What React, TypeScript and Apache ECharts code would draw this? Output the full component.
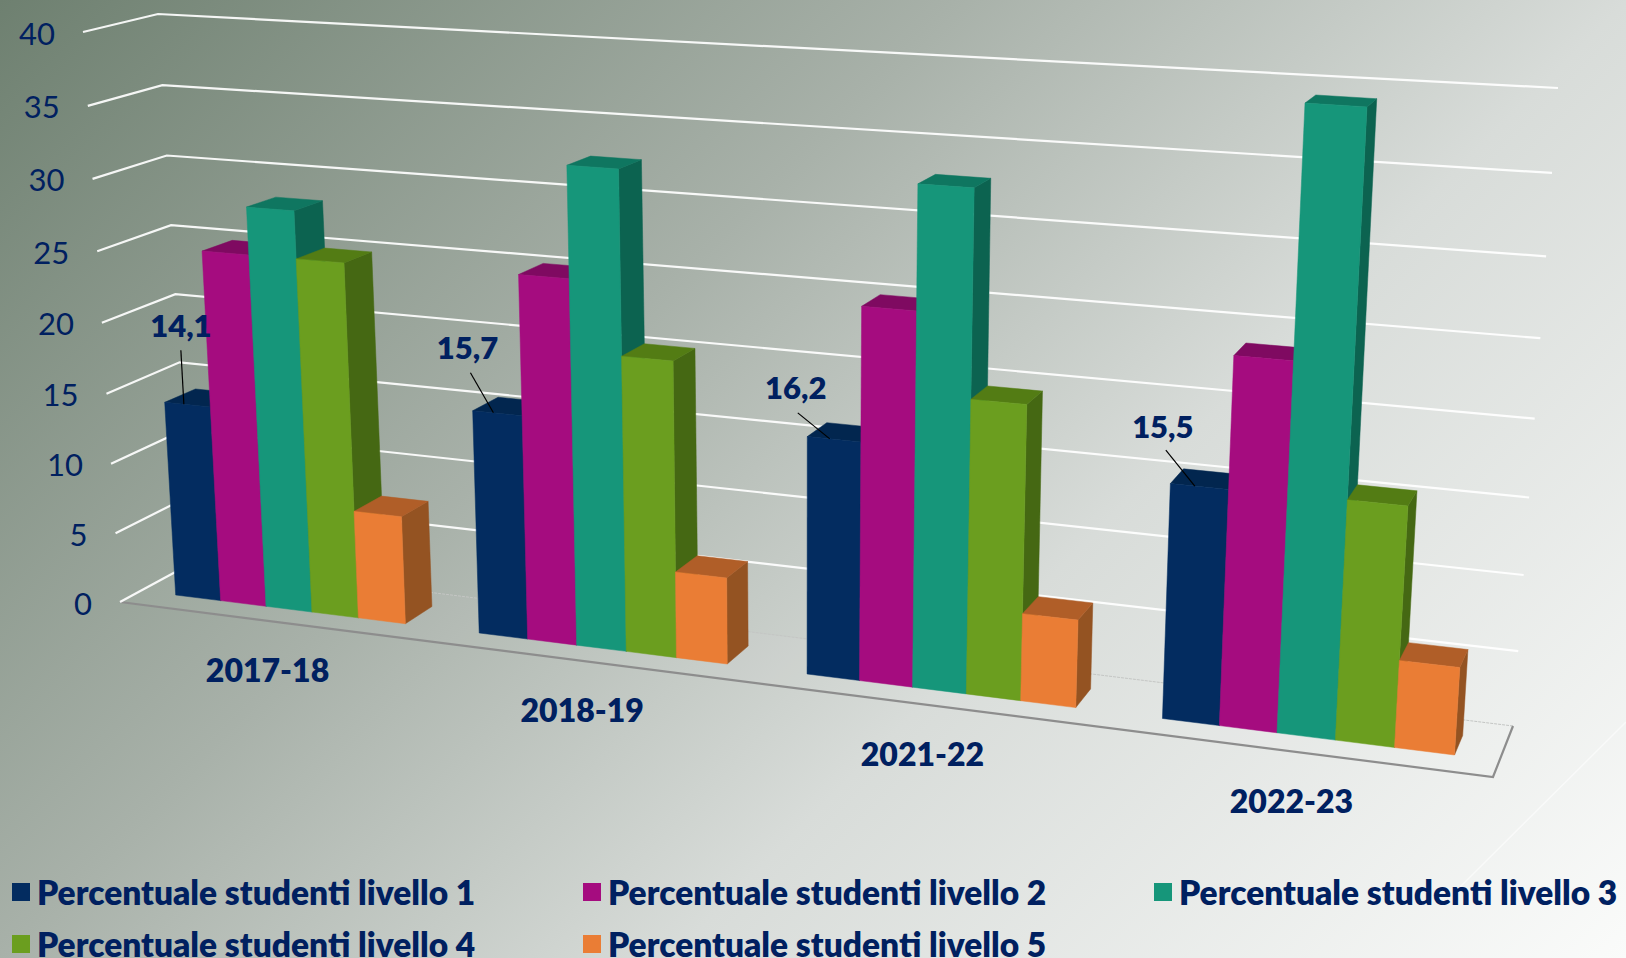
import React, { useEffect, useRef } from "react";
import * as echarts from "echarts";

const categories = ["2017-18", "2018-19", "2021-22", "2022-23"];
const seriesNames = [
  "Percentuale studenti livello 1",
  "Percentuale studenti livello 2",
  "Percentuale studenti livello 3",
  "Percentuale studenti livello 4",
  "Percentuale studenti livello 5",
];
const livello1 = [14.1, 15.7, 16.2, 15.5];
const livello2 = [25.1, 25.3, 25.1, 24.0];
const livello3 = [28.4, 32.8, 33.2, 39.7];
const livello4 = [25.1, 20.4, 19.7, 15.6];
const livello5 = [7.7, 6.0, 5.9, 5.7];
const allLevels = [livello1, livello2, livello3, livello4, livello5];
const valueTicks = [0, 5, 10, 15, 20, 25, 30, 35, 40];

// colours: front, top, side
const palette = [
  ["#032C60", "#02264F", "#02264F"],
  ["#A50C7F", "#7F0A61", "#6E0954"],
  ["#16967A", "#0F7660", "#0C6350"],
  ["#6B9E1F", "#537C14", "#456813"],
  ["#EA7D35", "#B05E28", "#945322"],
];
const NAVY = "#002060";
const FONT = "Lato";

// hidden grid: the axes give the pixel position, which is then warped into the perspective view
const GRID = { left: 0, top: 0, width: 1000, height: 400 };
const AXIS_MAX = 40;

const GROUP_PITCH = 0.2657;
const BAR_W = 0.04058;
const persp = 0.86;
const VP_V = [798, 11503];
const VP_D = [1922, -360];
const DEPTH = 0.0175;

function uToT(u: number) {
  return (persp * u) / (1 - (1 - persp) * u);
}
function front(u: number, v: number) {
  const t = uToT(u);
  const bx = 175.7 + 1278.8 * t;
  const by = 595 + 160 * t;
  const s = 13.45 + 1.8 * t;
  const dx = bx - VP_V[0];
  const dy = by - VP_V[1];
  const D = Math.hypot(dx, dy);
  const sv = s * v;
  const h = sv / (1 - sv / D);
  return [bx + (dx / D) * h, by + (dy / D) * h];
}
function back(p: number[]) {
  return [p[0] + (VP_D[0] - p[0]) * DEPTH, p[1] + (VP_D[1] - p[1]) * DEPTH];
}

// wall edges at value 0 and value 40, with the edge's perspective factor
const WALL = {
  frontLeft: { p: [[120, 602], [83, 32]], k: 0.96 },
  backLeft: { p: [[192, 563], [158, 14]], k: 0.96 },
  backRight: { p: [[1513, 726], [1558, 88]], k: 0.93 },
};
const FLOOR_FRONT_RIGHT = [1493, 777];
function wall(edge: { p: number[][]; k: number }, v: number) {
  const t = v / AXIS_MAX;
  const f = (edge.k * t) / (1 - (1 - edge.k) * t);
  return [edge.p[0][0] + (edge.p[1][0] - edge.p[0][0]) * f, edge.p[0][1] + (edge.p[1][1] - edge.p[0][1]) * f];
}
function readValue(api: any) {
  const px = api.coord([api.value(0), api.value(1)]);
  return ((GRID.top + GRID.height - px[1]) / GRID.height) * AXIS_MAX;
}

const labelLayout = [
  { lx: -3, ly: -79, sx: -3, sy: -54 },
  { lx: -26, ly: -66, sx: -23, sy: -40 },
  { lx: -34, ly: -52, sx: -32, sy: -26 },
  { lx: -32, ly: -60, sx: -29, sy: -36 },
];

function barSeries(level: number) {
  const colors = palette[level];
  return {
    type: "custom",
    name: seriesNames[level],
    coordinateSystem: "cartesian2d",
    clip: false,
    silent: true,
    itemStyle: { color: colors[0] },
    data: allLevels[level].map((v, g) => [g, v]),
    renderItem: (_p: any, api: any) => {
      const g = api.value(0);
      const v = readValue(api);
      const u0 = g * GROUP_PITCH + level * BAR_W;
      const u1 = u0 + BAR_W;
      const a = front(u0, 0);
      const b = front(u1, 0);
      const c = front(u1, v);
      const d = front(u0, v);
      const poly = (pts: number[][], col: string) => ({
        type: "polygon",
        shape: { points: pts },
        style: { fill: col, stroke: col, lineWidth: 0.5 },
      });
      return {
        type: "group",
        children: [
          poly([b, back(b), back(c), c], colors[2]),
          poly([d, c, back(c), back(d)], colors[1]),
          poly([a, b, c, d], colors[0]),
        ],
      };
    },
  };
}

const gridLineSeries = {
  type: "custom",
  coordinateSystem: "cartesian2d",
  clip: false,
  silent: true,
  data: valueTicks.map((t) => [0, t]),
  renderItem: (_p: any, api: any) => {
    const v = readValue(api);
    const fl = wall(WALL.frontLeft, v);
    const bl = wall(WALL.backLeft, v);
    const br = wall(WALL.backRight, v);
    const children: any[] = [
      {
        type: "polyline",
        shape: { points: v === 0 ? [fl, bl] : [fl, bl, br] },
        style: { stroke: "#ffffff", lineWidth: 2.2, fill: "none", opacity: 0.92 },
      },
    ];
    if (v === 0) {
      children.unshift(
        {
          type: "polygon",
          shape: { points: [fl, bl, br, FLOOR_FRONT_RIGHT] },
          style: { fill: "rgba(255,255,255,0.04)" },
        },
        {
          type: "line",
          shape: { x1: bl[0], y1: bl[1], x2: br[0], y2: br[1] },
          style: { stroke: "#c4c6c4", lineWidth: 1, lineDash: [3, 1] },
        },
        {
          type: "polyline",
          shape: { points: [fl, FLOOR_FRONT_RIGHT, br] },
          style: { stroke: "#8d8d8d", lineWidth: 2.2, fill: "none" },
        }
      );
    }
    return { type: "group", children };
  },
};

const tickLabelSeries = {
  type: "custom",
  coordinateSystem: "cartesian2d",
  clip: false,
  silent: true,
  data: valueTicks.map((t) => [0, t]),
  renderItem: (_p: any, api: any) => {
    const v = readValue(api);
    const p = wall(WALL.frontLeft, v);
    return {
      type: "text",
      x: p[0] - 28,
      y: p[1] + 0.5,
      style: {
        text: String(Math.round(v)),
        fill: NAVY,
        font: `400 31px ${FONT}`,
        textAlign: "right",
        textVerticalAlign: "middle",
      },
    };
  },
};

const dataLabelSeries = {
  type: "custom",
  coordinateSystem: "cartesian2d",
  clip: false,
  silent: true,
  data: livello1.map((v, g) => [g, v]),
  renderItem: (_p: any, api: any) => {
    const g = api.value(0);
    const v = readValue(api);
    const u0 = g * GROUP_PITCH;
    const tl = front(u0, v);
    const tr = front(u0 + BAR_W, v);
    const ax = tl[0] + (tr[0] - tl[0]) * 0.42;
    const ay = tl[1] + (tr[1] - tl[1]) * 0.42;
    const l = labelLayout[g];
    return {
      type: "group",
      children: [
        {
          type: "line",
          shape: { x1: ax + l.sx, y1: ay + l.sy, x2: ax, y2: ay },
          style: { stroke: "#000000", lineWidth: 1.2 },
        },
        {
          type: "text",
          x: ax + l.lx,
          y: ay + l.ly,
          style: {
            text: api.value(1).toFixed(1).replace(".", ","),
            fill: NAVY,
            font: `800 31px ${FONT}`,
            textAlign: "center",
            textVerticalAlign: "middle",
          },
        },
      ],
    };
  },
};

const categoryLabelSeries = {
  type: "custom",
  coordinateSystem: "cartesian2d",
  clip: false,
  silent: true,
  data: categories.map((_c, g) => [g, 0]),
  renderItem: (_p: any, api: any) => {
    const g = api.value(0);
    const u0 = g * GROUP_PITCH;
    const a = front(u0, 0);
    const b = front(u0 + 5 * BAR_W, 0);
    return {
      type: "text",
      x: (a[0] + b[0]) / 2 - 23 + 2 * g,
      y: (a[1] + b[1]) / 2 + 60.5 + g,
      style: {
        text: categories[g],
        fill: NAVY,
        font: `800 32px ${FONT}`,
        textAlign: "center",
        textVerticalAlign: "middle",
      },
    };
  },
};

const legendSlots = [
  { left: 12, top: 875 },
  { left: 583, top: 875 },
  { left: 1154, top: 875 },
  { left: 12, top: 927 },
  { left: 583, top: 927 },
];

export default function App() {
  const ref = useRef<HTMLDivElement>(null);
  useEffect(() => {
    if (!ref.current) return;
    const chart = echarts.init(ref.current, undefined, { renderer: "svg" });
    chart.setOption({
      animation: false,
      backgroundColor: {
        type: "linear",
        x: 0,
        y: 0,
        x2: 1292,
        y2: 1292,
        global: true,
        colorStops: [
          { offset: 0, color: "#6E8070" },
          { offset: 0.37, color: "#A8B1A9" },
          { offset: 0.63, color: "#D8DCD9" },
          { offset: 1, color: "#FAFBFA" },
        ],
      },
      grid: { ...GRID },
      xAxis: { type: "category", data: categories, show: false },
      yAxis: { type: "value", min: 0, max: AXIS_MAX, interval: 5, show: false },
      legend: legendSlots.map((s, i) => ({
        left: s.left,
        top: s.top,
        padding: 0,
        icon: "rect",
        itemWidth: 18,
        itemHeight: 18,
        selectedMode: false,
        data: [seriesNames[i]],
        textStyle: {
          color: NAVY,
          fontFamily: FONT,
          fontWeight: 800,
          fontSize: 33.5,
          lineHeight: 28,
          padding: [0, 0, 6, 2],
        },
      })),
      graphic: [
        {
          type: "line",
          silent: true,
          z: -1,
          shape: { x1: 1460, y1: 887, x2: 1626, y2: 722 },
          style: { stroke: "rgba(255,255,255,0.55)", lineWidth: 1.5 },
        },
      ],
      series: [
        gridLineSeries,
        barSeries(0),
        barSeries(1),
        barSeries(2),
        barSeries(3),
        barSeries(4),
        tickLabelSeries,
        dataLabelSeries,
        categoryLabelSeries,
      ],
    });
    return () => chart.dispose();
  }, []);
  return <div ref={ref} style={{ position: "absolute", left: 0, top: 0, width: 1626, height: 958 }} />;
}
